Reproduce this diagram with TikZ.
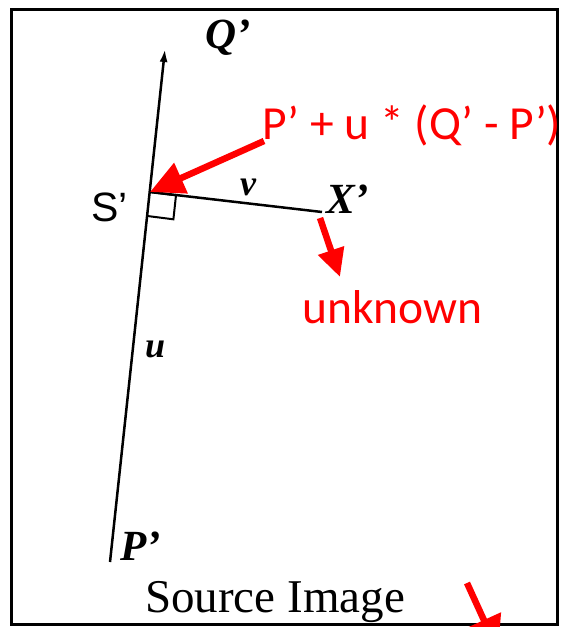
\documentclass[tikz,border=0pt]{standalone}
\usepackage{fontspec}
\setmainfont{Liberation Serif}
\newfontfamily\redfont{Carlito}
\newfontfamily\arialfont{Liberation Sans}
\usetikzlibrary{arrows.meta}
\begin{document}
\begin{tikzpicture}[x=1pt,y=-1pt,
  lbl/.style={inner sep=0pt, anchor=base west, font=\fontsize{43}{43}\selectfont\bfseries\itshape},
  redtxt/.style={inner sep=0pt, anchor=base west, text=red, font=\redfont\fontsize{47.5}{47.5}\selectfont},
  redarrow/.style={draw=red, line width=6.5pt},
  blackline/.style={draw=black, line width=2.5pt}]
\clip (0,0) rectangle (561,627);
\fill[white] (0,0) rectangle (561,627);
% frame
\draw[line width=3pt] (11,9) rectangle (557,624);
% geometry
\coordinate (P) at (110,562);
\coordinate (Q) at (165,49);
\coordinate (S) at (150,192);
\coordinate (X) at (322,212);
\draw[blackline, -{Latex[length=13pt,width=8pt]}] (P) -- (Q);
\draw[blackline] (S) -- (X);
\draw[line width=2pt] (S) -- ++(26,3.3) -- ++(-2.6,24) -- ++(-26,-3.3);
% labels
\node[lbl] (qlab) at (205,48) {Q'};
\node[lbl] (xlab) at (326,213) {X'};
\node[lbl] (plab) at (120,560) {P'};
\node[lbl, font=\fontsize{36}{36}\selectfont\bfseries\itshape] (ulab) at (145,357) {u};
\node[lbl, font=\fontsize{36}{36}\selectfont\bfseries\itshape] (vlab) at (240,195) {v};
\node[inner sep=0pt, anchor=base west, font=\fontsize{47}{47}\selectfont] (src) at (145,612) {Source Image};
\node[inner sep=0pt, anchor=base west, font=\arialfont\fontsize{41}{41}\selectfont] (slab) at (91,221) {S’};
% red annotations
\node[redtxt] (formula) at (262,139) {P’ + u * (Q’ - P’)};
\node[redtxt] (unk) at (302,323) {unknown};
\coordinate (a1s) at (264,141);
\coordinate (a2s) at (320,218);
\coordinate (a2e) at (340,277);
\coordinate (a3s) at (467,583);
\coordinate (a3e) at (498,651);
\draw[redarrow, -{Triangle[length=34pt,width=32pt]}] (a1s) -- (S);
\draw[redarrow, -{Triangle[length=28pt,width=26pt]}] (a2s) -- (a2e);
\draw[redarrow, -{Triangle[length=34pt,width=36pt]}] (a3s) -- (a3e);
\end{tikzpicture}
\end{document}
